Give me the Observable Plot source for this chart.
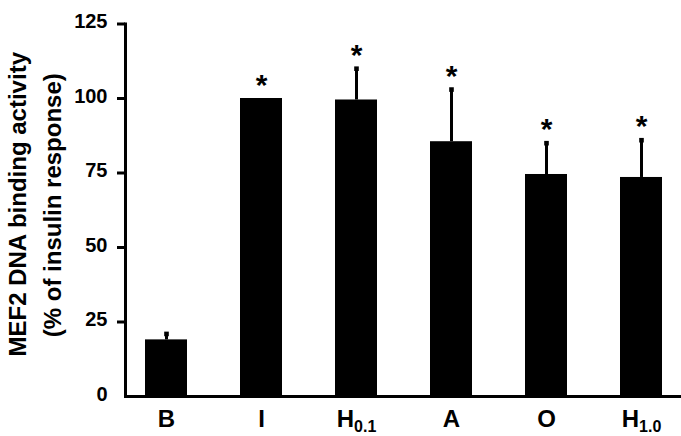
<!DOCTYPE html>
<html>
<head>
<meta charset="utf-8">
<script src="https://cdn.jsdelivr.net/npm/d3@7"></script>
<script src="https://cdn.jsdelivr.net/npm/@observablehq/plot@0.6"></script>
<style>
  html, body { margin: 0; padding: 0; background: #fff; }
  svg { display: block; }
</style>
</head>
<body>
<div id="chart"></div>
<script>
// Categories and their tick label parts (main letter + subscript)
const categories = ["B", "I", "H0.1", "A", "O", "H1.0"];
const labelMain = ["B", "I", "H", "A", "O", "H"];
const labelSub = ["", "", "0.1", "", "", "1.0"];
// MEF2 DNA binding activity (% of insulin response)
const values = [19, 100, 99.5, 85.5, 74.5, 73.5];
// upper error (SE)
const errors = [2, 0, 10.5, 17.5, 10.5, 12.5];
// significance marks
const significant = [false, true, true, true, true, true];
const yTicks = [0, 25, 50, 75, 100, 125];
const yLabel1 = "MEF2 DNA binding activity";
const yLabel2 = "(% of insulin response)";

const data = categories.map((c, i) => ({
  cat: c, value: values[i], err: errors[i], top: values[i] + errors[i], sig: significant[i]
}));
const errData = data.filter(d => d.err > 0);
const sigData = data.filter(d => d.sig);

const font = "'Liberation Sans', Arial, Helvetica, sans-serif";

const svg = Plot.plot({
  width: 681,
  height: 436,
  marginLeft: 125,
  marginRight: 0,
  marginTop: 23.5,
  marginBottom: 40,
  style: { fontFamily: font, color: "black", background: "white" },
  x: { domain: categories, paddingInner: 0.56, paddingOuter: 0.2, axis: null },
  y: { domain: [0, 125], axis: null },
  marks: [
    Plot.barY(data, { x: "cat", y: "value", fill: "black" }),
    Plot.ruleX(errData, { x: "cat", y1: "value", y2: "top", stroke: "black", strokeWidth: 3 }),
    Plot.dot(errData, { x: "cat", y: "top", symbol: "square", r: 2.6, fill: "black" }),
    Plot.text(sigData, { x: "cat", y: "top", text: () => "*", lineAnchor: "bottom", dy: -4,
      fontSize: 30, fontWeight: "bold", fill: "black" }),
    Plot.frame({ anchor: "left", stroke: "black", strokeWidth: 3 }),
    Plot.frame({ anchor: "bottom", stroke: "black", strokeWidth: 3 }),
    Plot.axisY({ ticks: yTicks, tickSize: 0, tickPadding: 18, fontSize: 20, fontWeight: "bold",
      label: null, dy: -2, tickFormat: d => String(d) }),
    Plot.axisY({ ticks: yTicks.filter(t => t > 0), tickSize: 8, strokeWidth: 3, text: null, label: null }),
    Plot.axisX({ tickSize: 0, tickPadding: 13, fontSize: 24, fontWeight: "bold", label: null,
      tickFormat: d => labelMain[categories.indexOf(d)] }),
    Plot.text([yLabel1], { text: d => d, frameAnchor: "left", textAnchor: "middle", rotate: -90,
      dx: -100, dy: -6, lineAnchor: "bottom", fontSize: 24, fontWeight: "bold", fill: "black" }),
    Plot.text([yLabel2], { text: d => d, frameAnchor: "left", textAnchor: "middle", rotate: -90,
      dx: -64.5, dy: -5, lineAnchor: "bottom", fontSize: 24, fontWeight: "bold", fill: "black" })
  ]
});

// Add subscripts to x tick labels as real text (tspans)
d3.select(svg).selectAll('g[aria-label="x-axis tick label"] text').each(function (d, i) {
  const sub = labelSub[i];
  if (sub) {
    d3.select(this).append("tspan").attr("font-size", 16).attr("dy", 5).text(sub);
  }
});

document.getElementById("chart").appendChild(svg);
</script>
</body>
</html>
